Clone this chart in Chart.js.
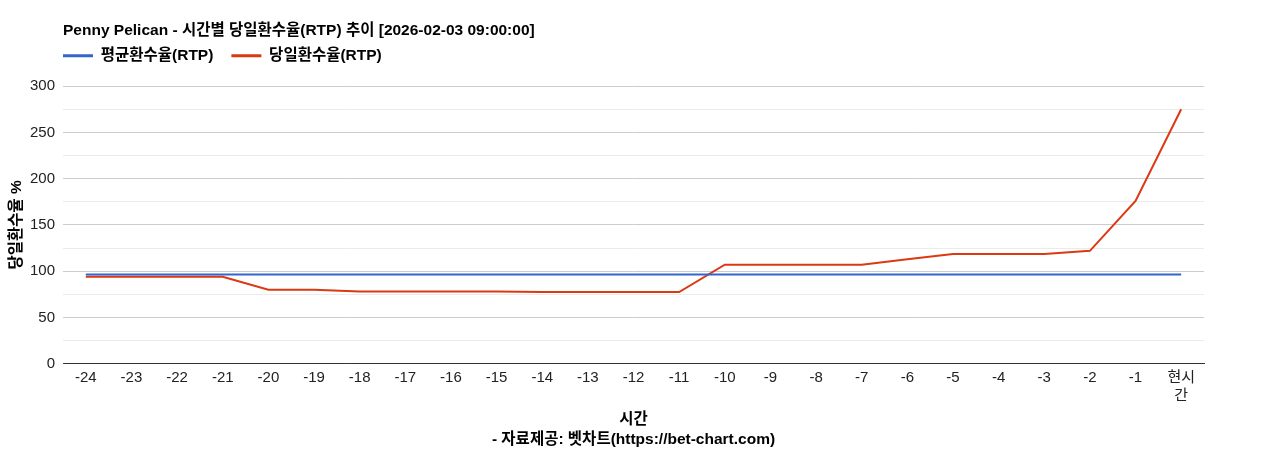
<!DOCTYPE html>
<html>
<head>
<meta charset="utf-8">
<script src="https://cdn.jsdelivr.net/npm/chart.js@4"></script>
<style>
  html, body { margin: 0; padding: 0; background: #fff; }
  #wrap { width: 1268px; height: 450px; }
</style>
</head>
<body>
<div id="wrap"><canvas id="myChart"></canvas></div>
<script>
const hours = ["-24", "-23", "-22", "-21", "-20", "-19", "-18", "-17", "-16", "-15", "-14", "-13",
  "-12", "-11", "-10", "-9", "-8", "-7", "-6", "-5", "-4", "-3", "-2", "-1", ["현시", "간"]];
const avgRtp = [96.5, 96.5, 96.5, 96.5, 96.5, 96.5, 96.5, 96.5, 96.5, 96.5, 96.5, 96.5, 96.5,
  96.5, 96.5, 96.5, 96.5, 96.5, 96.5, 96.5, 96.5, 96.5, 96.5, 96.5, 96.5];
const todayRtp = [94, 94, 94, 94, 80, 80, 78, 78, 78, 78, 77.5, 77.5, 77.5, 77.5, 107, 107, 107,
  107, 113, 118.5, 118.5, 118.5, 122, 176, 275];

const FONT = "Arial, 'Liberation Sans', 'Noto Sans CJK KR', sans-serif";

// title + legend sit at the plot's left edge in the picture
const shiftLeft = {
  id: "shiftLeft",
  afterLayout(chart) {
    chart.titleBlock.left = 63;
    chart.legend.left = 45;
    chart.legend.top = 30;
  },
};

const ctx = document.getElementById("myChart").getContext("2d");
const myChart = new Chart(ctx, {
  type: "line",
  data: {
    labels: hours,
    datasets: [
      {
        label: "평균환수율(RTP)",
        data: avgRtp,
        borderColor: "#3366cc",
        backgroundColor: "#3366cc",
        borderWidth: 2,
        pointRadius: 0,
        tension: 0,
        fill: false,
      },
      {
        label: "당일환수율(RTP)",
        data: todayRtp,
        borderColor: "#dc3912",
        backgroundColor: "#dc3912",
        borderWidth: 2,
        pointRadius: 0,
        tension: 0,
        fill: false,
      },
    ],
  },
  options: {
    responsive: true,
    maintainAspectRatio: false,
    animation: false,
    layout: { padding: { left: 0, right: 64, top: 0, bottom: 0 } },
    plugins: {
      title: {
        display: true,
        text: "Penny Pelican - 시간별 당일환수율(RTP) 추이 [2026-02-03 09:00:00]",
        align: "start",
        color: "#000",
        font: { family: FONT, size: 15.5, weight: "bold" },
        padding: { top: 21, bottom: 3 },
      },
      legend: {
        align: "start",
        labels: {
          usePointStyle: true,
          pointStyle: "line",
          pointStyleWidth: 30,
          padding: 18,
          color: "#000",
          font: { family: FONT, size: 15.5, weight: "bold" },
          generateLabels: (chart) =>
            Chart.defaults.plugins.legend.labels.generateLabels(chart).map((l) => ({ ...l, lineWidth: 3 })),
        },
      },
      tooltip: { enabled: false },
    },
    scales: {
      x: {
        offset: true,
        grid: { display: false, drawTicks: false },
        border: { display: true, color: "#333", width: 1 },
        ticks: {
          color: "#222",
          font: { family: FONT, size: 15 },
          maxRotation: 0,
          autoSkip: false,
          padding: 5,
        },
        title: {
          display: true,
          text: ["시간", "- 자료제공: 벳차트(https://bet-chart.com)"],
          color: "#000",
          font: { family: FONT, size: 15.5, weight: "bold", lineHeight: 1.3 },
          padding: { top: 0, bottom: 0 },
        },
      },
      y: {
        min: 0,
        max: 300,
        afterFit(axis) { axis.width = 63; },
        border: { display: false },
        grid: {
          color: (c) => (c.tick.value === 0 ? "#333" : c.tick.value % 50 === 0 ? "#cccccc" : "#ebebeb"),
          drawTicks: false,
        },
        ticks: {
          stepSize: 25,
          autoSkip: false,
          padding: 8,
          color: "#222",
          font: { family: FONT, size: 15 },
          callback: (v) => (v % 50 === 0 ? v : ""),
        },
        title: {
          display: true,
          text: "당일환수율 %",
          color: "#000",
          font: { family: FONT, size: 15.5, weight: "bold" },
          padding: { top: 7, bottom: 0 },
        },
      },
    },
  },
  plugins: [shiftLeft],
});
</script>
</body>
</html>
